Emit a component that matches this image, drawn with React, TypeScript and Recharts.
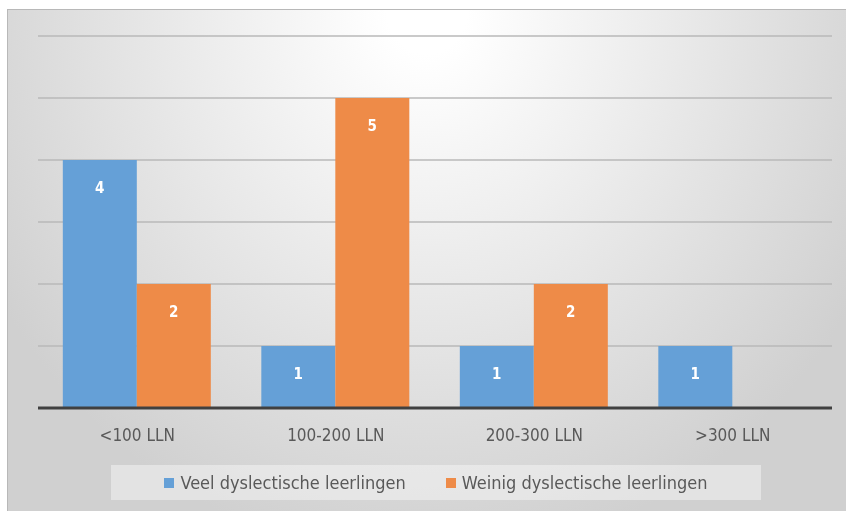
import React from 'react';
import { BarChart, Bar, XAxis, YAxis, CartesianGrid, Legend, LabelList } from 'recharts';

const categories = ['<100 LLN', '100-200 LLN', '200-300 LLN', '>300 LLN'];
const veelValues = [4, 1, 1, 1];
const weinigValues = [2, 5, 2, 0];
const yTicks = [0, 1, 2, 3, 4, 5, 6];

const SERIES = [
  { key: 'veel', name: 'Veel dyslectische leerlingen', color: '#65A0D7' },
  { key: 'weinig', name: 'Weinig dyslectische leerlingen', color: '#EE8B48' },
];

const FONT = '"Liberation Sans Narrow", "DejaVu Sans Condensed", "Open Sans", sans-serif';

const data = categories.map((name, i) => ({
  name,
  veel: veelValues[i],
  weinig: weinigValues[i],
}));

// legend drawn as a flat box like the Excel one
const LegendBox = () => (
  <div
    style={{
      background: 'rgba(255,255,255,0.4)',
      height: 35,
      display: 'flex',
      alignItems: 'center',
      justifyContent: 'center',
      gap: 40,
      fontFamily: FONT,
      fontSize: 18,
      color: '#595959',
    }}
  >
    {SERIES.map((s) => (
      <span key={s.key} style={{ display: 'flex', alignItems: 'center' }}>
        <span style={{ width: 10, height: 10, background: s.color, marginRight: 6, display: 'inline-block' }} />
        {s.name}
      </span>
    ))}
  </div>
);

const App: React.FC = () => {
  return (
    // the chart frame runs off the right and bottom of the window, like the screenshot
    <div
      style={{
        position: 'fixed',
        left: 7,
        top: 9,
        width: 839,
        height: 502,
        borderTop: '1px solid #b8b8b8',
        borderLeft: '1px solid #b8b8b8',
        boxSizing: 'border-box',
        background: 'radial-gradient(ellipse 60% 110% at 50% 0%, #ffffff 0%, #ffffff 8%, #d0d0d0 100%)',
      }}
    >
      <BarChart
        width={838}
        height={501}
        data={data}
        margin={{ top: 26, right: 14, left: 30, bottom: 28 }}
        barCategoryGap="12.5%"
        barGap={0}
      >
        <CartesianGrid horizontal vertical={false} stroke="#b9b9b9" strokeWidth={1.5} />
        <YAxis hide domain={[0, 6]} ticks={yTicks} />
        <XAxis
          dataKey="name"
          axisLine={{ stroke: '#404040', strokeWidth: 3 }}
          tickLine={false}
          tickMargin={15}
          height={40}
          tick={{ fill: '#595959', fontSize: 17, fontFamily: FONT }}
        />
        <Legend
          content={<LegendBox />}
          wrapperStyle={{ left: 103, top: 455, width: 650 }}
        />
        {SERIES.map((s) => (
          <Bar key={s.key} dataKey={s.key} name={s.name} fill={s.color} isAnimationActive={false}>
            <LabelList
              dataKey={s.key}
              position="insideTop"
              offset={22}
              fill="#ffffff"
              fontSize={15}
              fontWeight="bold"
              fontFamily={FONT}
              formatter={(v: number) => (v ? v : '')}
            />
          </Bar>
        ))}
      </BarChart>
    </div>
  );
};

export default App;
